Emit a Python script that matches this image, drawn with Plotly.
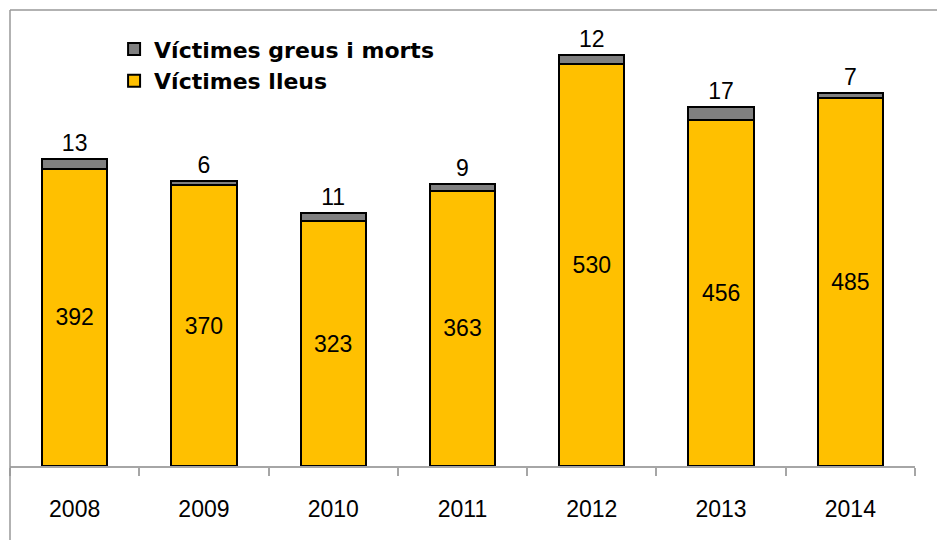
import plotly.graph_objects as go

years = ["2008", "2009", "2010", "2011", "2012", "2013", "2014"]
lleus = [392, 370, 323, 363, 530, 456, 485]
greus = [13, 6, 11, 9, 12, 17, 7]

num_font = dict(family="Liberation Sans", size=23, color="black")

fig = go.Figure()
fig.add_trace(go.Bar(
    x=years, y=lleus, name="Víctimes lleus", legendrank=2,
    marker=dict(color="#FFC000", line=dict(color="black", width=2)),
    text=[str(v) for v in lleus], textposition="inside", insidetextanchor="middle",
    textfont=num_font, width=0.505,
))
fig.add_trace(go.Bar(
    x=years, y=greus, name="Víctimes greus i morts", legendrank=1,
    marker=dict(color="#808080", line=dict(color="black", width=2)),
    text=[str(v) for v in greus], textposition="outside",
    textfont=num_font, cliponaxis=False, width=0.505,
))

fig.update_layout(
    width=937, height=532,
    barmode="stack",
    plot_bgcolor="white", paper_bgcolor="white",
    margin=dict(l=2, r=30, t=3, b=74, autoexpand=False),
    showlegend=True,
    legend=dict(
        x=0.115, y=0.962, xanchor="left", yanchor="top",
        traceorder="normal",
        font=dict(family="DejaVu Sans", size=22, color="black", weight="bold"),
        bgcolor="rgba(0,0,0,0)",
    ),
    uniformtext=dict(mode=False),
    shapes=[
        dict(type="line", xref="paper", yref="paper", x0=0, x1=0, y0=-0.3, y1=1.002,
             line=dict(color="#999999", width=1.5)),
        dict(type="line", xref="paper", yref="paper", x0=0, x1=1.1, y0=1.002, y1=1.002,
             line=dict(color="#999999", width=1.5)),
    ],
)
fig.update_xaxes(
    type="category", range=[-0.5, 6.5], automargin=False,
    showline=True, linecolor="#A6A6A6", linewidth=1.5,
    ticks="outside", tickson="boundaries", ticklen=8, tickcolor="#A6A6A6", tickwidth=1.5,
    tickfont=num_font,
    ticklabelstandoff=22,
    showgrid=False,
)
fig.update_yaxes(range=[0, 600], visible=False, showgrid=False, automargin=False)

fig.write_html("out.html")
